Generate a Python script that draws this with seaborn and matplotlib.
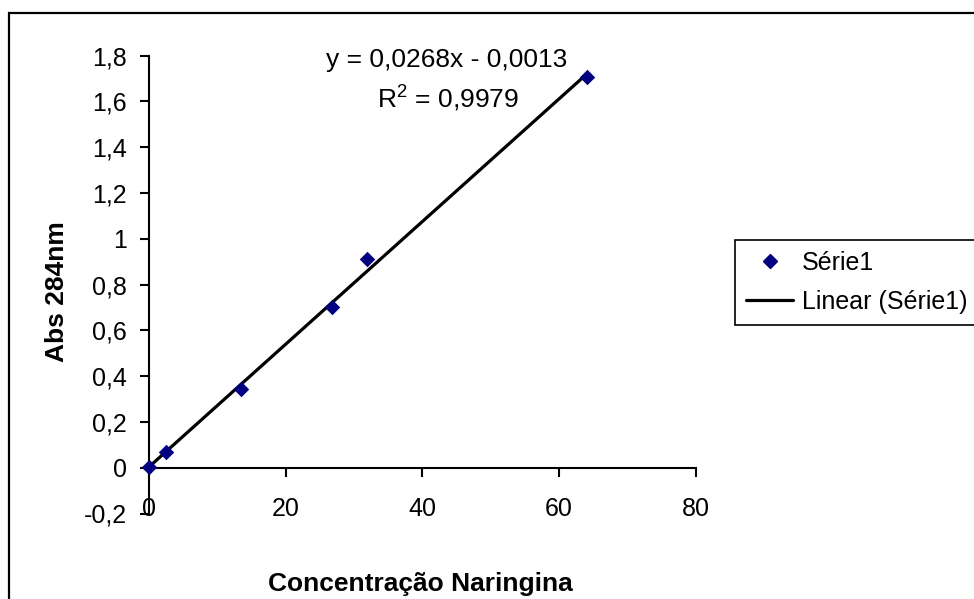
import matplotlib
matplotlib.use("Agg")
import matplotlib.pyplot as plt
import seaborn as sns
import pandas as pd
from matplotlib.patches import Rectangle
from matplotlib.lines import Line2D

# Data
concentracao = [0.0, 2.6, 13.5, 26.8, 31.9, 64.0]
absorbancia = [0.005, 0.07, 0.345, 0.70, 0.913, 1.705]
x_ticks = [0, 20, 40, 60, 80]
y_ticks = [-0.2, 0, 0.2, 0.4, 0.6, 0.8, 1.0, 1.2, 1.4, 1.6, 1.8]
y_tick_labels = ["-0,2", "0", "0,2", "0,4", "0,6", "0,8", "1", "1,2", "1,4", "1,6", "1,8"]
equation_text = "y = 0,0268x - 0,0013"
r2_text = "R$^2$ = 0,9979"
series_name = "Série1"
trend_name = "Linear (Série1)"
x_label = "Concentração Naringina"
y_label = "Abs 284nm"

df = pd.DataFrame({"x": concentracao, "y": absorbancia})

sns.set_style("white")
plt.rcParams["font.family"] = ["Liberation Sans", "DejaVu Sans"]
plt.rcParams["mathtext.fontset"] = "custom"
plt.rcParams["mathtext.rm"] = "Liberation Sans"
plt.rcParams["text.color"] = "black"
plt.rcParams["legend.labelcolor"] = "black"

W, H = 974, 599
fig = plt.figure(figsize=(W / 100, H / 100), dpi=100)
left, right, top, bottom = 148.7, 696, 55.7, 513.5
ax = fig.add_axes([left / W, 1 - bottom / H, (right - left) / W, (bottom - top) / H])

sns.regplot(data=df, x="x", y="y", ax=ax, scatter=False, ci=None, truncate=True,
            line_kws=dict(color="black", lw=2.3, solid_capstyle="butt"))
sns.scatterplot(data=df, x="x", y="y", ax=ax, marker="D", s=62, color="#000080",
                edgecolor="#000080", linewidth=0, zorder=5, clip_on=False)

ax.set_xlim(0, 80)
ax.set_ylim(-0.2, 1.8)
ax.set_xticks(x_ticks)
ax.set_xticklabels([str(t) for t in x_ticks])
ax.set_yticks(y_ticks)
ax.set_yticklabels(y_tick_labels)

for s in ["top", "right"]:
    ax.spines[s].set_visible(False)
ax.spines["bottom"].set_position(("data", 0))
for s in ["bottom", "left"]:
    ax.spines[s].set_color("black")
    ax.spines[s].set_linewidth(1.5)

ax.tick_params(axis="x", direction="out", length=6.5, width=1.5, pad=14.5, labelsize=18,
               colors="black", bottom=True)
ax.tick_params(axis="y", direction="out", length=6.5, width=1.5, pad=9, labelsize=18,
               colors="black", left=True)
for lab in ax.get_yticklabels():
    lab.set_verticalalignment("center_baseline")
ax.set_xlabel("")
ax.set_ylabel("")

fig.text(420 / W, 1 - 591 / H, x_label, ha="center", va="baseline",
         fontsize=19, fontweight="bold", color="black")
fig.text(57 / W, 1 - 292 / H, y_label, ha="center", va="center", rotation=90,
         fontsize=19, fontweight="bold", color="black")

fig.text(446.5 / W, 1 - 66.7 / H, equation_text, ha="center", va="baseline",
         fontsize=19, color="black")
fig.text(448 / W, 1 - 107 / H, r2_text, ha="center", va="baseline",
         fontsize=19, color="black")

# Legend
handles = [Line2D([], [], marker="D", color="#000080", linestyle="none", markersize=7.2),
           Line2D([], [], color="black", lw=2.3)]
leg = fig.legend(handles, [series_name, trend_name], loc="upper left",
                 bbox_to_anchor=(735 / W, 1 - 239.5 / H), fontsize=18, frameon=True,
                 fancybox=False, edgecolor="black", framealpha=1, borderpad=0.45,
                 handlelength=1.87, handletextpad=0.37, labelspacing=0.6,
                 borderaxespad=0)
leg.get_frame().set_linewidth(1.2)
for t in leg.get_texts():
    t.set_color("black")

# Outer chart border (extends past right/bottom edges)
fig.patches.append(Rectangle((8.5 / W, -0.05), 1.1, 1 - 13.3 / H + 0.05, transform=fig.transFigure,
                             fill=False, edgecolor="black", lw=1.6, clip_on=False))

fig.savefig("out.png", dpi=100)
